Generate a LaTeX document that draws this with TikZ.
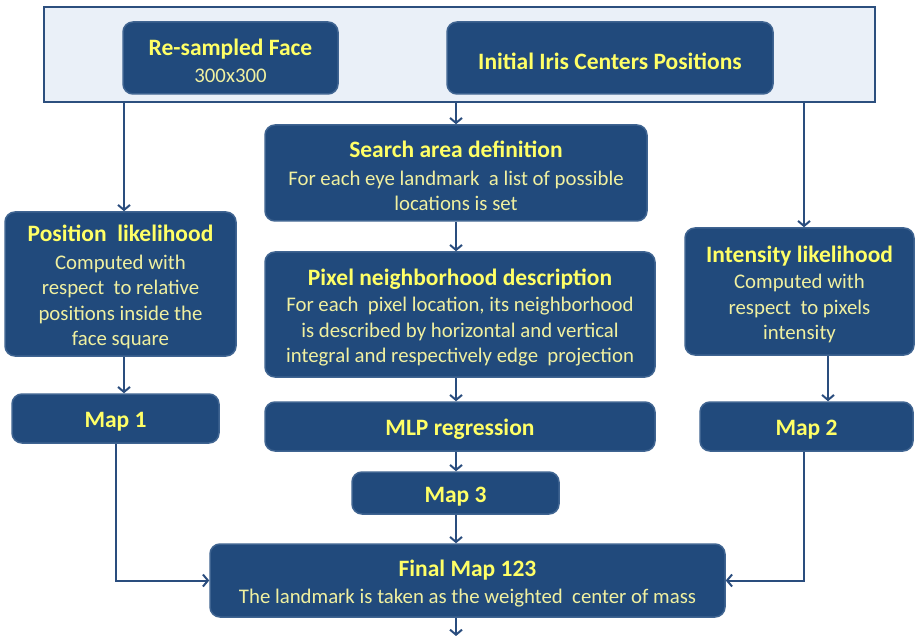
\documentclass[tikz,border=0pt]{standalone}
\usepackage{fontspec}
\setmainfont{Carlito}
\usetikzlibrary{arrows.meta}
\definecolor{boxfill}{HTML}{214A7C}
\definecolor{boxline}{HTML}{3F6491}
\definecolor{framefill}{HTML}{EAF0F8}
\definecolor{frameline}{HTML}{2C4F7E}
\definecolor{arrcol}{HTML}{2A4D7E}
\definecolor{titlecol}{HTML}{FFFF66}
\definecolor{bodycol}{HTML}{F0F0A0}
\newcommand{\ttl}[1]{{\fontsize{23.5}{26}\selectfont\bfseries\color{titlecol}\rule{0pt}{22.5pt}#1}}
\newcommand{\bdy}{\fontsize{20.8}{25.5}\selectfont\color{bodycol}}
\tikzset{
  box/.style={draw=boxline, fill=boxfill, line width=1.5pt, rounded corners=10pt,
    inner sep=0pt, align=center, font=\bdy},
  arr/.style={draw=arrcol, line width=2pt, -{Straight Barb[length=5pt,width=12pt,line width=2pt]}},
}
\begin{document}
\begin{tikzpicture}[x=1pt,y=-1pt]
\useasboundingbox (0,0) rectangle (915,636);
\node[draw=frameline, fill=framefill, line width=2pt, minimum width=831pt, minimum height=95pt, inner sep=0pt] (frame) at (459.5,54.5) {};
\node[box, minimum width=215pt, minimum height=72pt] (resamp) at (230.5,58) {\ttl{Re-sampled Face}\\[1pt]300x300};
\node[box, minimum width=326pt, minimum height=72pt] (iris) at (610,58) {\ttl{Initial Iris Centers Positions}};
\node[box, minimum width=382pt, minimum height=96pt] (search) at (456,173) {\ttl{Search area definition}\\[2pt]For each eye landmark\ \ a list of possible\\locations is set};
\node[box, minimum width=390pt, minimum height=125pt] (pixel) at (460,314.5) {\ttl{Pixel neighborhood description}\\[1pt]For each\ \ pixel location, its neighborhood\\is described by horizontal and vertical\\integral and respectively edge\ \ projection};
\node[box, minimum width=390pt, minimum height=49pt] (mlp) at (460,426.5) {\ttl{MLP regression}};
\node[box, minimum width=207pt, minimum height=42pt] (map3) at (455.5,493) {\ttl{Map 3}};
\node[box, minimum width=515pt, minimum height=73pt] (final) at (467.5,580.5) {\ttl{Final Map 123}\\[1pt]The landmark is taken as the weighted\ \ center of mass};
\node[box, minimum width=231pt, minimum height=144pt] (pos) at (120.5,284) {\ttl{Position\ \ likelihood}\\[2pt]Computed with\\respect\ \ to relative\\positions inside the\\face square};
\node[box, minimum width=207pt, minimum height=49pt] (map1) at (115.5,418.5) {\ttl{Map 1}};
\node[box, minimum width=229pt, minimum height=127pt] (inten) at (799.5,291.5) {\ttl{Intensity likelihood}\\[1pt]Computed with\\respect\ \ to pixels\\intensity};
\node[box, minimum width=213pt, minimum height=49pt] (map2) at (806.5,426.5) {\ttl{Map 2}};
\coordinate (out) at (456,636);
% connectors
\draw[arr] ([xshift=3.5pt]frame.south -| pos.north) -- ([xshift=3.5pt]pos.north);
\draw[arr] (frame.south -| search.north) -- (search.north);
\draw[arr] ([xshift=4.5pt]frame.south -| inten.north) -- ([xshift=4.5pt]inten.north);
\draw[arr] ([xshift=3.5pt]pos.south) -- ([xshift=3.5pt]pos.south |- map1.north);
\draw[arr] (search.south) -- (search.south |- pixel.north);
\draw[arr] (search.south |- pixel.south) -- (search.south |- mlp.north);
\draw[arr] (search.south |- mlp.south) -- (search.south |- map3.north);
\draw[arr] (search.south |- map3.south) -- (search.south |- final.north);
\draw[arr] (search.south |- final.south) -- (out);
\draw[arr] ([xshift=28.5pt]inten.south) -- ([xshift=28.5pt]inten.south |- map2.north);
\draw[arr] ([xshift=0.5pt]map1.south) |- (final.west);
\draw[arr] ([xshift=-2.5pt]map2.south) |- (final.east);
\end{tikzpicture}
\end{document}
